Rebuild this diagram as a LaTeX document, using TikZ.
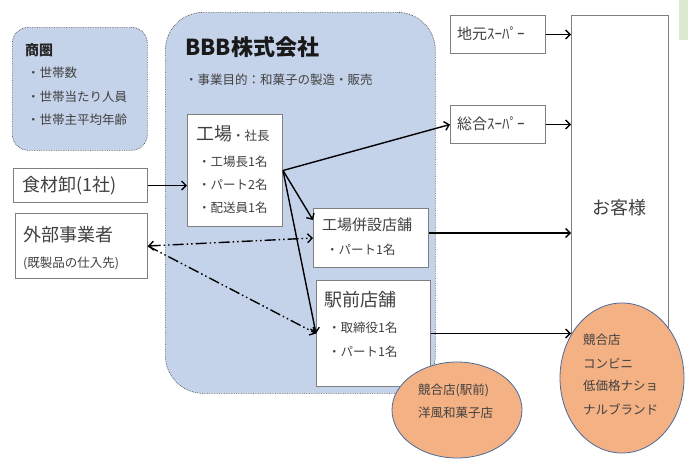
\documentclass[tikz,border=0pt]{standalone}
\usepackage{fontspec}
\setmainfont{Noto Sans CJK JP}
\usetikzlibrary{arrows.meta,shapes.geometric,calc}
\definecolor{lblue}{HTML}{C5D3EA}
\definecolor{orng}{HTML}{F4B183}
\definecolor{eborder}{HTML}{4A6B9A}
\definecolor{bgray}{HTML}{7F7F7F}
\definecolor{tgray}{HTML}{404040}
\definecolor{lgreen}{HTML}{DCE9CF}
\begin{document}
\begin{tikzpicture}[x=1pt,y=-1pt,
  area/.style={draw=gray!60!black, densely dotted, line width=0.7pt, fill=lblue, anchor=north west, inner sep=0pt},
  wbox/.style={draw=bgray, line width=1pt, fill=white, anchor=north west, inner sep=0pt},
  oval/.style={ellipse, draw=eborder, line width=0.8pt, fill=orng, inner sep=0pt},
  txt/.style={anchor=west, inner sep=0pt, text=tgray, font=\fontsize{12.5}{14}\selectfont},
  big/.style={anchor=west, inner sep=0pt, text=tgray, font=\fontsize{18}{20}\selectfont},
  arr/.style={-{Straight Barb[length=4.5pt,width=9pt]}, line width=1.4pt, black},
  dda/.style={line width=1.4pt, black, dash pattern=on 11pt off 3pt on 1.5pt off 3pt on 1.5pt off 3pt}
]
\useasboundingbox (0,0) rectangle (688,461);
\fill[lgreen] (679,0) rectangle (688,40);

% area boxes
\node[area, rounded corners=16pt, minimum width=135pt, minimum height=123pt] (shoken) at (12,27) {};
\node[area, rounded corners=38pt, minimum width=270pt, minimum height=381pt] (bbb) at (165,12) {};

\node[anchor=west, inner sep=0pt, font=\bfseries\fontsize{14}{16}\selectfont, text=black!85] (shokenT) at (25,50) {商圏};
\node[txt] (s1) at (27,73) {・世帯数};
\node[txt] (s2) at (27,97) {・世帯当たり人員};
\node[txt] (s3) at (27,120) {・世帯主平均年齢};

\node[anchor=west, inner sep=0pt, font=\bfseries\fontsize{22}{24}\selectfont, text=black!90] (bbbT) at (185,47) {BBB株式会社};
\node[txt] (purpose) at (185,80) {・事業目的：和菓子の製造・販売};

% customer box
\node[wbox, minimum width=97pt, minimum height=325pt] (okyaku) at (571,15) {};
\node[anchor=center, inner sep=0pt, text=tgray, font=\fontsize{18}{20}\selectfont] (okyakuT) at (619,208) {お客様};

% white boxes
\node[wbox, minimum width=95pt, minimum height=112pt] (kojo) at (187,114) {};
\node[big] (kojoT) at (196,134) {工場\fontsize{12.5}{14}\selectfont・社長};
\node[txt] (k1) at (198,162) {・工場長1名};
\node[txt] (k2) at (198,185) {・パート2名};
\node[txt] (k3) at (198,208) {・配送員1名};

\node[wbox, minimum width=134pt, minimum height=34pt] (shokuzai) at (13,168) {};
\node[big] (shokuzaiT) at (22,186) {食材卸(1社)};

\node[wbox, minimum width=132pt, minimum height=65pt] (gaibu) at (15,213) {};
\node[big] (gaibuT) at (23,235) {外部事業者};
\node[txt] (gaibu2) at (23,263) {(既製品の仕入先)};

\node[wbox, minimum width=115pt, minimum height=59pt] (tenpo1) at (313,208) {};
\node[anchor=west, inner sep=0pt, text=tgray, font=\fontsize{15}{17}\selectfont] (tenpo1T) at (322,225) {工場併設店舗};
\node[txt] (t1) at (326,250) {・パート1名};

\node[wbox, minimum width=114pt, minimum height=106pt] (ekimae) at (316,280) {};
\node[big] (ekimaeT) at (324,300) {駅前店舗};
\node[txt] (e1) at (328,328) {・取締役1名};
\node[txt] (e2) at (328,352) {・パート1名};

\node[wbox, minimum width=95pt, minimum height=38pt] (jimoto) at (450,15) {};
\node[anchor=west, inner sep=0pt, text=tgray, font=\fontsize{15}{17}\selectfont] (jimotoT) at (457,34) {地元ｽｰﾊﾟｰ};
\node[wbox, minimum width=95pt, minimum height=38pt] (sogo) at (450,105) {};
\node[anchor=west, inner sep=0pt, text=tgray, font=\fontsize{15}{17}\selectfont] (sogoT) at (457,124) {総合ｽｰﾊﾟｰ};

% ellipses
\node[oval, minimum width=124pt, minimum height=150pt] (kyogo) at (622,378) {};
\node[txt] (c1) at (583,340) {競合店};
\node[txt] (c2) at (583,363) {コンビニ};
\node[txt] (c3) at (583,386) {低価格ナショ};
\node[txt] (c4) at (583,409) {ナルブランド};

\node[oval, minimum width=130pt, minimum height=96pt] (kyogo2) at (457,410) {};
\node[txt] (d1) at (418,390) {競合店(駅前)};
\node[txt] (d2) at (418,413) {洋風和菓子店};

% connectors
\draw[arr] (shokuzai.east) -- (shokuzai.east -| kojo.west);
\draw[arr] (kojo.east) -- (sogo.west);
\draw[arr] (kojo.east) -- ($(tenpo1.north west)+(0,12)$);
\draw[arr] (kojo.east) -- (ekimae.west);
\draw[dda, {Straight Barb[length=4.5pt,width=9pt]}-{Straight Barb[length=4.5pt,width=9pt]}] (gaibu.east) -- (tenpo1.west);
\draw[dda, -{Straight Barb[length=4.5pt,width=9pt]}] (gaibu.east) -- (ekimae.west);
\coordinate (t1o) at ($(tenpo1.east)+(0,-5)$);
\draw[arr] (t1o) -- (t1o -| okyaku.west);
\draw[arr] (ekimae.east) -- (ekimae.east -| okyaku.west);
\draw[arr] (jimoto.east) -- (jimoto.east -| okyaku.west);
\draw[arr] (sogo.east) -- (sogo.east -| okyaku.west);
\end{tikzpicture}
\end{document}
